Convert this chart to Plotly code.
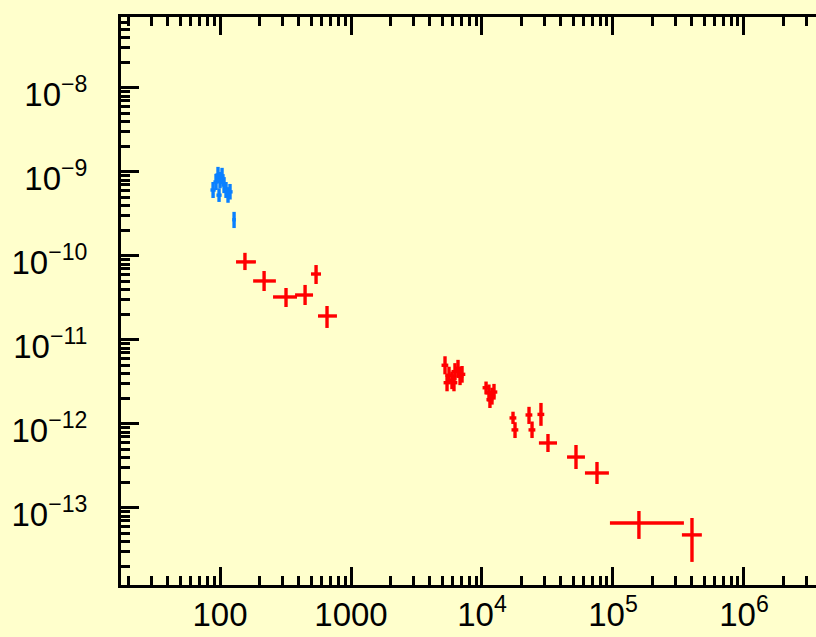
import plotly.graph_objects as go

# --- blue band: energies, fluxes and their error ranges
blue_x = [88.5, 93.2, 96.5, 98.3, 100, 103.6, 107.3, 111.1, 115.1, 119.2, 128]
blue_xlo = [84.5, 89.0, 92.2, 93.9, 95.5, 99.0, 102.5, 106.1, 110.0, 113.9, 124.0]
blue_xhi = [92.7, 97.6, 101.0, 102.9, 104.7, 108.5, 112.3, 116.3, 120.5, 124.8, 132.0]
blue_y = [6.1e-10, 7.6e-10, 9.2e-10, 5.3e-10, 8.0e-10, 9.0e-10, 7.0e-10, 6.1e-10, 5.3e-10, 5.8e-10, 2.7e-10]
blue_ylo = [4.9e-10, 6.1e-10, 7.4e-10, 4.4e-10, 6.4e-10, 7.2e-10, 5.6e-10, 4.9e-10, 4.3e-10, 4.7e-10, 2.15e-10]
blue_yhi = [7.6e-10, 9.5e-10, 1.15e-9, 6.4e-10, 1.0e-9, 1.12e-9, 8.7e-10, 7.6e-10, 6.6e-10, 7.2e-10, 3.35e-10]

# --- red clustered points (narrow energy bins)
clus_x = [5220, 5410, 5600, 5900, 6110, 6220, 6560, 6800, 7040,
          10740, 11300, 11500, 11920, 12350,
          17250, 17870, 22860, 24100, 28200]
clus_xlo = [4910, 5090, 5260, 5550, 5740, 5850, 6170, 6390, 6620,
            10100, 10620, 10810, 11200, 11610,
            16220, 16800, 21490, 22650, 26510]
clus_xhi = [5530, 5730, 5940, 6250, 6480, 6590, 6950, 7210, 7460,
            11380, 11980, 12190, 12640, 13090,
            18290, 18940, 24230, 25550, 29890]
clus_y = [5.0e-12, 3.1e-12, 3.8e-12, 3.3e-12, 3.1e-12, 4.2e-12, 4.6e-12, 3.7e-12, 3.9e-12,
          2.7e-12, 2.35e-12, 1.95e-12, 2.15e-12, 2.4e-12,
          1.18e-12, 8.5e-13, 1.28e-12, 8.5e-13, 1.30e-12]
clus_ylo = [3.9e-12, 2.45e-12, 3.0e-12, 2.6e-12, 2.45e-12, 3.3e-12, 3.6e-12, 2.9e-12, 3.1e-12,
            2.25e-12, 1.85e-12, 1.55e-12, 1.7e-12, 1.95e-12,
            1.0e-12, 6.8e-13, 1.0e-12, 6.8e-13, 9.5e-13]
clus_yhi = [6.4e-12, 3.9e-12, 4.8e-12, 4.2e-12, 3.9e-12, 5.3e-12, 5.8e-12, 4.7e-12, 4.9e-12,
            3.2e-12, 2.95e-12, 2.45e-12, 2.7e-12, 3.0e-12,
            1.4e-12, 1.05e-12, 1.6e-12, 1.07e-12, 1.78e-12]

# --- red crosses (wide energy bins)
bin_x = [155, 217, 319, 446, 541, 656, 31900, 52200, 75500, 157800, 401000]
bin_xlo = [132.5, 179, 254, 374, 495, 560, 27200, 44600, 61100, 94800, 336000]
bin_xhi = [188, 267, 387, 513, 590, 781, 37400, 61100, 93100, 348000, 477000]
bin_y = [8.5e-11, 5.04e-11, 3.25e-11, 3.43e-11, 6.1e-11, 1.93e-11,
         5.94e-13, 4.04e-13, 2.61e-13, 6.62e-14, 4.78e-14]
bin_ylo = [6.8e-11, 3.83e-11, 2.47e-11, 2.61e-11, 4.64e-11, 1.39e-11,
           4.64e-13, 2.91e-13, 1.93e-13, 4.28e-14, 2.28e-14]
bin_yhi = [1.09e-10, 6.62e-11, 4.16e-11, 4.52e-11, 7.8e-11, 2.54e-11,
           7.6e-13, 5.62e-13, 3.53e-13, 9.2e-14, 7.6e-14]

# axis ticks
x_tickvals = [100, 1000, 1e4, 1e5, 1e6]
x_ticktext = ["100", "1000", "10<sup>4</sup>", "10<sup>5</sup>", "10<sup>6</sup>"]
y_tickvals = [1e-13, 1e-12, 1e-11, 1e-10, 1e-9, 1e-8]
y_ticktext = ["10<sup>\u221213</sup>", "10<sup>\u221212</sup>", "10<sup>\u221211</sup>",
              "10<sup>\u221210</sup>", "10<sup>\u22129</sup>", "10<sup>\u22128</sup>"]


def minor_vals(lo_exp, hi_exp):
    return [m * 10.0 ** e for e in range(lo_exp, hi_exp + 1) for m in range(2, 10)]


def cross_trace(x, xlo, xhi, y, ylo, yhi, color):
    return go.Scatter(
        x=x, y=y, mode="markers",
        marker=dict(size=1, color=color, opacity=0),
        error_x=dict(type="data", symmetric=False,
                     array=[h - v for h, v in zip(xhi, x)],
                     arrayminus=[v - l for v, l in zip(x, xlo)],
                     color=color, thickness=3.4, width=0),
        error_y=dict(type="data", symmetric=False,
                     array=[h - v for h, v in zip(yhi, y)],
                     arrayminus=[v - l for v, l in zip(y, ylo)],
                     color=color, thickness=3.4, width=0),
        showlegend=False, hoverinfo="skip",
    )


fig = go.Figure()
fig.add_trace(cross_trace(blue_x, blue_xlo, blue_xhi, blue_y, blue_ylo, blue_yhi, "#0a80ff"))
fig.add_trace(cross_trace(clus_x, clus_xlo, clus_xhi, clus_y, clus_ylo, clus_yhi, "#ff0000"))
fig.add_trace(cross_trace(bin_x, bin_xlo, bin_xhi, bin_y, bin_ylo, bin_yhi, "#ff0000"))

bg = "#ffffcc"
font = dict(family="Liberation Sans, Arial, sans-serif", size=33, color="black")

fig.update_layout(
    width=816, height=637,
    margin=dict(l=121, r=0, t=17, b=52),
    paper_bgcolor=bg, plot_bgcolor=bg,
    font=font,
    xaxis=dict(
        type="log", range=[1.244, 6.55],
        tickmode="array", tickvals=x_tickvals, ticktext=x_ticktext,
        ticks="inside", ticklen=18, tickwidth=3, tickcolor="black",
        minor=dict(tickmode="array", tickvals=minor_vals(1, 6),
                   ticks="inside", ticklen=9, tickwidth=2.5, tickcolor="black",
                   showgrid=False),
        showline=True, linewidth=3, linecolor="black", mirror="ticks",
        showgrid=False, zeroline=False,
        ticklabelstandoff=-2,
    ),
    yaxis=dict(
        type="log", range=[-13.917, -7.155],
        tickmode="array", tickvals=y_tickvals, ticktext=y_ticktext,
        ticks="inside", ticklen=18, tickwidth=3, tickcolor="black",
        minor=dict(tickmode="array", tickvals=minor_vals(-14, -8),
                   ticks="inside", ticklen=9, tickwidth=2.5, tickcolor="black",
                   showgrid=False),
        showline=True, linewidth=3, linecolor="black", mirror=False,
        showgrid=False, zeroline=False,
        ticklabelstandoff=24, ticklabelshift=6,
    ),
)

fig.write_html("out.html")
